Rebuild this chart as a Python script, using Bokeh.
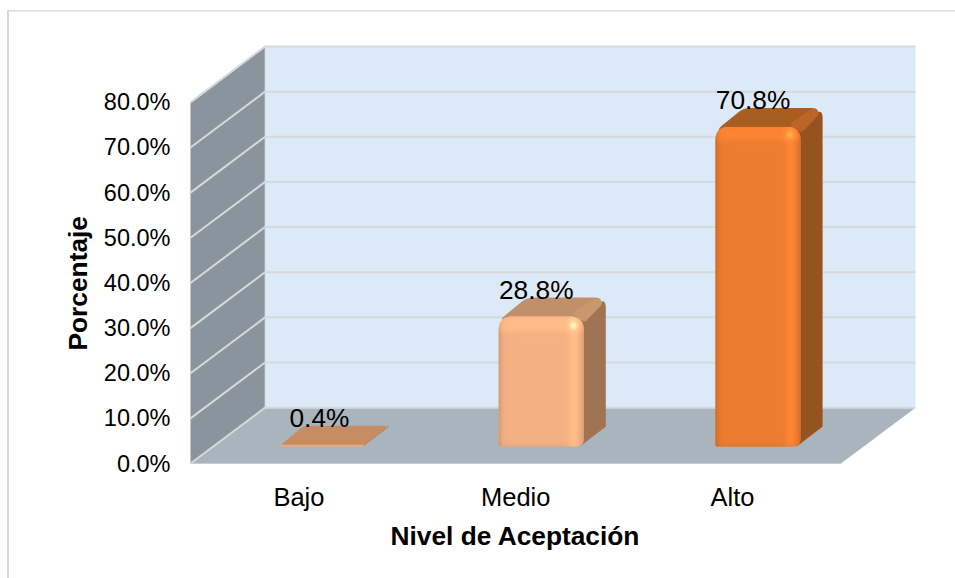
import math
import numpy as np
from bokeh.embed import file_html
from bokeh.resources import INLINE
from bokeh.plotting import figure
from bokeh.models import Range1d, FixedTicker, PrintfTickFormatter, Title
from bokeh.core.properties import value as V

# ---- data ----
categories = ["Bajo", "Medio", "Alto"]
percent = [0.4, 28.8, 70.8]
percent_labels = ["0.4%", "28.8%", "70.8%"]
y_ticks = [0, 10, 20, 30, 40, 50, 60, 70, 80]
x_title = "Nivel de Aceptación"
y_title = "Porcentaje"

# ---- style ----
FRONT = ["#F2A877", "#F4B183", "#ED7D31"]
TOP = ["#C68C62", "#BF9069", "#A95D21"]
SIDE = ["#A07352", "#A07352", "#96531F"]
RIDGE = ["#C68C62", "#C99A72", "#BD6727"]
WALL_BACK = "#DCE9F7"
WALL_SIDE = "#8A949C"
FLOOR = "#A9B4BC"
GRID = "#D6D9DC"
FONT = "Liberation Sans"

# scale: pixels per data unit, and the 3-D depth of the box in pixels
UX = 650 / 3
UY = 362 / 80
DEPTH_X, DEPTH_Y = 74.5, 56
BAR_W = 85
BAR_DX, BAR_DY = 25.5, 17      # front face shift inside the box
BAR_DEPTH_X, BAR_DEPTH_Y = 22, 20

xmax_front = len(categories)
xmax_back = xmax_front + DEPTH_X / UX
ytop = y_ticks[-1]
ytop_back = ytop + DEPTH_Y / UY


def rounded(points, radii, n=7):
    """Polygon in pixels -> polygon with rounded vertices."""
    out = []
    m = len(points)
    for i in range(m):
        p0 = np.array(points[i - 1], float)
        p1 = np.array(points[i], float)
        p2 = np.array(points[(i + 1) % m], float)
        a, b = p0 - p1, p2 - p1
        la, lb = np.hypot(*a), np.hypot(*b)
        r = min(radii[i], la / 2, lb / 2)
        if r <= 0:
            out.append(tuple(p1))
            continue
        s, e = p1 + a / la * r, p1 + b / lb * r
        for t in np.linspace(0, 1, n):
            out.append(tuple((1 - t) ** 2 * s + 2 * t * (1 - t) * p1 + t ** 2 * e))
    return out


def shaded_face(w, h, rgb, r_top=14, r_br=9, r_bl=2, ss=3):
    """RGBA picture of the bar's front face: bevels and highlights."""
    W, H = int(round(w)), int(round(h))
    yy, xx = np.mgrid[0:H * ss, 0:W * ss]
    xs = (xx + .5) / ss * w / W
    ys = (yy + .5) / ss * h / H      # from the top
    inside = np.ones_like(xs, bool)

    def corner(mask_x, mask_y, cx, cy, r):
        out = mask_x & mask_y & ((xs - cx) ** 2 + (ys - cy) ** 2 > r * r)
        inside[out] = False
    corner(xs < r_top, ys < r_top, r_top, r_top, r_top)
    corner(xs > w - r_top, ys < r_top, w - r_top, r_top, r_top)
    corner(xs > w - r_br, ys > h - r_br, w - r_br, h - r_br, r_br)
    corner(xs < r_bl, ys > h - r_bl, r_bl, h - r_bl, r_bl)
    cov = inside.reshape(H, ss, W, ss).mean(axis=(1, 3))

    yy, xx = np.mgrid[0:H, 0:W]
    x = (xx + .5) * w / W
    xr = w - x
    y = (yy + .5) * h / H
    k = np.ones((H, W))
    k -= 0.17 * np.exp(-x / 2.2)
    k += 0.08 * np.exp(-((xr - 10) / 5.0) ** 2)
    k -= 0.13 * np.exp(-xr / 2.6)
    k += 0.06 / (1 + np.exp((y - 15) / 1.2))
    k -= 0.04 * np.exp(-y / 2.0)
    k -= 0.06 * np.exp(-(h - y) / 2.0)
    k += 0.30 * np.exp(-((xr - 10.5) ** 2 + (y - 9) ** 2) / 14.0)
    img = np.zeros((H, W), dtype=np.uint32)
    view = img.view(np.uint8).reshape(H, W, 4)
    for c in range(3):
        view[:, :, c] = np.clip(rgb[c] * k, 0, 255)
    view[:, :, 3] = np.clip(cov * 255, 0, 255)
    return img[::-1]


def hex2rgb(s):
    return [int(s[i:i + 2], 16) for i in (1, 3, 5)]


# frame: a little wider than the box so its edge lines are not cut
p = figure(width=955, height=578, output_backend="svg", toolbar_location=None,
           x_range=Range1d(-4 / UX, xmax_back + 3 / UX),
           y_range=Range1d(-3 / UY, ytop_back + 6 / UY),
           min_border_left=186, min_border_right=37, min_border_top=40, min_border_bottom=112,
           outline_line_color=None, background_fill_color=None, border_fill_alpha=0)
p.grid.visible = False
# chart-area edge lines
p.styles = {"background":
            "linear-gradient(#D9D9D9,#D9D9D9) 7px 10px/2px 100% no-repeat,"
            "linear-gradient(#DCDCDC,#DCDCDC) 7px 10px/100% 1.5px no-repeat,#FFFFFF"}

# axes
p.xaxis.ticker = FixedTicker(ticks=[i + .5 for i in range(len(categories))])
p.xaxis.major_label_overrides = {i + .5: c for i, c in enumerate(categories)}
p.xaxis.major_label_text_font = FONT
p.xaxis.major_label_text_font_size = "25.5px"
p.xaxis.major_label_text_color = "#000000"
p.xaxis.major_label_standoff = 16
p.xaxis.major_tick_out = 0
p.xaxis.major_tick_in = 0
p.xaxis.axis_line_color = None
p.xaxis.major_tick_line_color = None
p.xaxis.minor_tick_line_color = None
p.yaxis.ticker = FixedTicker(ticks=y_ticks)
p.yaxis.formatter = PrintfTickFormatter(format="%.1f%%")
p.yaxis.major_label_text_font = FONT
p.yaxis.major_label_text_font_size = "23.5px"
p.yaxis.major_label_text_color = "#000000"
p.yaxis.major_label_standoff = 16
p.yaxis.major_tick_out = 0
p.yaxis.major_tick_in = 0
p.yaxis.axis_line_color = None
p.yaxis.major_tick_line_color = None
p.yaxis.minor_tick_line_color = None

# axis titles, off-centre of the frame like the reference
p.add_layout(Title(text=x_title, align="left", offset=204, standoff=11, text_font=FONT,
                   text_font_size="26.3px", text_font_style="bold", text_color="#000000"), "below")
p.add_layout(Title(text=y_title, align="left", offset=116, standoff=16, text_font=FONT,
                   text_font_size="26.3px", text_font_style="bold", text_color="#000000"), "left")

# box walls
dx, dy = DEPTH_X / UX, DEPTH_Y / UY
p.quad(left=[dx], right=[xmax_back], bottom=[dy], top=[ytop_back], fill_color=WALL_BACK, line_color=None)
p.patch([0, dx, dx, 0], [0, dy, ytop_back, ytop], fill_color=WALL_SIDE, line_color=None)
p.patch([0, xmax_front, xmax_back, dx], [0, 0, dy, dy], fill_color=FLOOR, line_color=None)

# grid lines
p.multi_line([[0, dx, xmax_back] for t in y_ticks], [[t, t + dy, t + dy] for t in y_ticks],
             line_color=GRID, line_width=2)
p.line([dx, dx], [dy, ytop_back], line_color=GRID, line_width=0.8)
p.line([0, xmax_front], [0, 0], line_color="#C8CFD4", line_width=1)

# bars
for i, v in enumerate(percent):
    cx = i + .5
    h = v * UY
    x0 = cx * UX - BAR_W / 2 + BAR_DX
    y0 = BAR_DY + h              # top of the front face, pixels above the origin

    def to_data(poly):
        xs = [(x0 + a) / UX for a, b in poly]
        ys = [(y0 + b) / UY for a, b in poly]
        return xs, ys

    w = BAR_W
    dX, dY = BAR_DEPTH_X, BAR_DEPTH_Y
    side = rounded([(w - 4, -h), (w + dX, -h + dY), (w + dX, dY - 1), (w - 4, 0)], [0, 1, 10, 0])
    if h > 8:
        top = rounded([(0, -4), (w, -4), (w + dX, dY - 1), (28, dY - 1)], [8, 6, 12, 7])
    else:
        top = rounded([(-2, -1), (w - 3, -1), (w + dX, dY - 1), (dX, dY - 1)], [5, 5, 6, 5])
    ridge = rounded([(w - 11, 3), (w + 12, dY - 1), (w + dX - 2, dY - 6), (w + 1, -6)], [3, 3, 6, 3])
    p.patch(*to_data(side), fill_color=SIDE[i], line_color=None)
    p.patch(*to_data(top), fill_color=TOP[i], line_color=None)
    if h > 8:
        p.patch(*to_data(ridge), fill_color=RIDGE[i], line_color=None, fill_alpha=0.9)
        face = rounded([(0, 0), (w, 0), (w, -h), (0, -h)], [13, 13, 8, 2])
    else:
        face = rounded([(-2, 0), (w - 3, 0), (w - 3, -h), (-2, -h)], [1, 1, 1, 1])
    p.patch(*to_data(face), fill_color=FRONT[i], line_color=None)
    if h > 8:
        p.image_rgba(image=[shaded_face(w, h, hex2rgb(FRONT[i]))],
                     x=[x0 / UX], y=[(y0 - h) / UY], dw=[w / UX], dh=[h / UY])

# data labels
p.text([i + .5 + 20.5 / UX for i in range(3)], [v + 44 / UY for v in percent], text=percent_labels,
       text_font=V(FONT), text_font_size="26.3px", text_align="center",
       text_baseline="alphabetic", text_color="#000000")

open("out.html", "w").write(file_html(p, INLINE))
